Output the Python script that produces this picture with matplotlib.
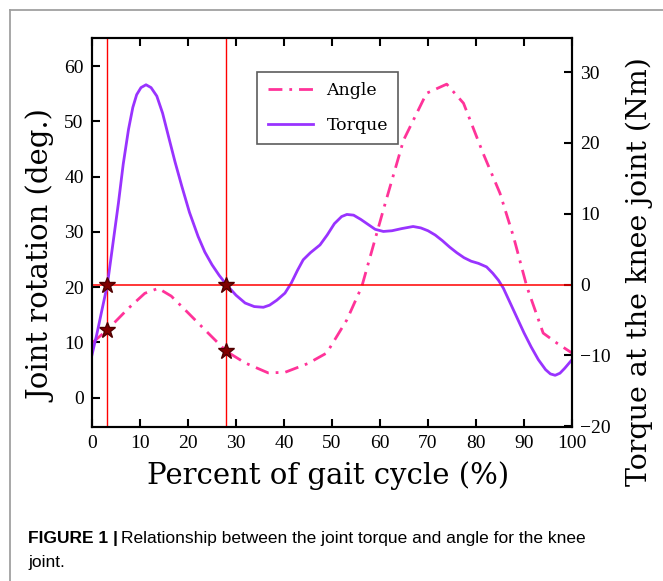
import numpy as np
import matplotlib
matplotlib.use('Agg')
import matplotlib.pyplot as plt
from matplotlib.lines import Line2D

# knee angle (deg) vs percent of gait cycle
angle_x = [0, 3.2, 7.6, 11, 13.8, 16.5, 19.4, 24.2, 28, 31.9, 36.7, 40.2, 45, 48.9,
           53.1, 56.2, 60.7, 64.9, 69.7, 73.9, 77.4, 81.5, 85, 87.8, 90.6, 94, 97, 100]
angle_y = [9.9, 12.3, 16.2, 18.9, 19.8, 18.4, 15.9, 11.7, 8.4, 6.3, 4.5, 4.6, 6.2, 8.1,
           14.1, 20.1, 34, 46.6, 55.1, 56.75, 53.3, 44.2, 37, 29.2, 20.1, 11.7, 9.8, 8.1]

# knee torque (Nm)
torque_x = [0, 1, 2, 3.2, 4.3, 5.5, 6.5, 7.6, 8.5, 9.3, 10.2, 11.25, 12.3, 13.5, 14.7,
            15.9, 17.3, 18.7, 20.3, 22.1, 23.5, 25, 26.5, 28, 30, 31.9, 33.8, 35.7, 37,
            38.5, 40.2, 41.5, 42.8, 44, 45.5, 47.5, 49, 50.5, 52, 53.1, 54.5, 56, 57.5,
            59, 60.7, 62.5, 64.5, 66.9, 68.5, 70, 71.5, 73, 74.5, 76, 77.5, 79, 80.5,
            82.2, 83.5, 84.7, 85.7, 87, 88.5, 90, 91.5, 93, 94.5, 95.5, 96.5, 97.5,
            98.5, 100]
torque_y = [-9.9, -7.0, -3.8, 0, 5.5, 11.5, 17, 21.9, 25, 26.8, 27.8, 28.2, 27.8, 26.6,
            24.2, 21, 17.3, 13.9, 10.2, 6.8, 4.6, 2.8, 1.3, 0, -1.5, -2.6, -3.1, -3.2,
            -2.9, -2.2, -1.2, 0.2, 2, 3.5, 4.5, 5.6, 7, 8.6, 9.6, 9.9, 9.8, 9.2, 8.5,
            7.8, 7.5, 7.6, 7.9, 8.2, 8.0, 7.6, 7.0, 6.2, 5.3, 4.5, 3.8, 3.3, 3.0,
            2.5, 1.6, 0.6, -0.5, -2.4, -4.6, -6.8, -8.8, -10.6, -12, -12.6, -12.8, -12.5,
            -11.8, -10.6]

# zero-torque instants and the angle there
mark_x = [3.2, 28]
mark_angle = [12.3, 8.4]
mark_torque = [0, 0]

serif = ['DejaVu Serif']
tickfont = ['Liberation Serif']

fig = plt.figure(figsize=(6.63, 5.81), dpi=100)
ax = fig.add_axes([0.1388, 0.265, 0.7239, 0.6696])
ax2 = ax.twinx()

l1, = ax.plot(angle_x, angle_y, color='#ff3399', lw=2, dashes=(5, 2.5, 1, 2.5))
l2, = ax2.plot(torque_x, torque_y, color='#9933ff', lw=2)

ax2.axhline(0, color='red', lw=1.1)
for xv in mark_x:
    ax.axvline(xv, color='red', lw=1)

ax.plot(mark_x, mark_angle, '*', color='#800000', ms=12, mec='#500000', zorder=5)
ax2.plot(mark_x, mark_torque, '*', color='#800000', ms=12, mec='#500000', zorder=5)

ax.set_xlim(0, 100)
ax.set_ylim(-5.3, 65.1)
ax2.set_ylim(-20.1, 34.8)
ax.set_xticks(np.arange(0, 101, 10))
ax.set_yticks(np.arange(0, 61, 10))
ax2.set_yticks(np.arange(-20, 31, 10))

for a in (ax, ax2):
    for s in a.spines.values():
        s.set_linewidth(1.5)
    for lab in a.get_xticklabels() + a.get_yticklabels():
        lab.set_family(tickfont)
        lab.set_fontsize(14)
ax.tick_params(direction='in', length=6, width=1.5, top=True, pad=6)
ax2.tick_params(direction='in', length=6, width=1.5, pad=6)

fig.text(0.4955, 0.181, 'Percent of gait cycle (%)', family=serif, fontsize=21,
         ha='center', va='center')
fig.text(0.063, 0.559, 'Joint rotation (deg.)', family=serif, fontsize=21,
         ha='center', va='center', rotation=90)
fig.text(0.965, 0.532, 'Torque at the knee joint (Nm)', family=serif, fontsize=20.5,
         ha='center', va='center', rotation=90)

leg = ax.legend([l1, l2], ['Angle', 'Torque'], loc='upper left',
                bbox_to_anchor=(0.344, 0.913), borderaxespad=0, fancybox=False,
                edgecolor='#333333', prop={'family': serif, 'size': 12.5},
                handlelength=2.6, labelspacing=1.0, borderpad=0.6)
leg.get_frame().set_linewidth(1.2)

# outer grey frame of the figure panel
fig.add_artist(Line2D([10 / 663, 1.0], [1 - 10 / 581] * 2, color='#a0a0a0', lw=1.3))
fig.add_artist(Line2D([10 / 663] * 2, [0, 1 - 10 / 581], color='#a0a0a0', lw=1.3))

# caption: bold lead, then regular text right after it
cap_y = 1 - 538 / 581
lead = fig.text(28 / 663, cap_y, 'FIGURE 1 |', family=['Liberation Sans'],
                fontweight='bold', fontsize=12.5, va='center')
renderer = fig.canvas.get_renderer()
bb = lead.get_window_extent(renderer).transformed(fig.transFigure.inverted())
fig.text(bb.x1 + 3 / 663, cap_y,
         'Relationship between the joint torque and angle for the knee',
         family=['Liberation Sans'], fontsize=12.5, va='center')
fig.text(28 / 663, 1 - 563 / 581, 'joint.', family=['Liberation Sans'], fontsize=12.5,
         va='center')

fig.savefig('out.png', dpi=100)
